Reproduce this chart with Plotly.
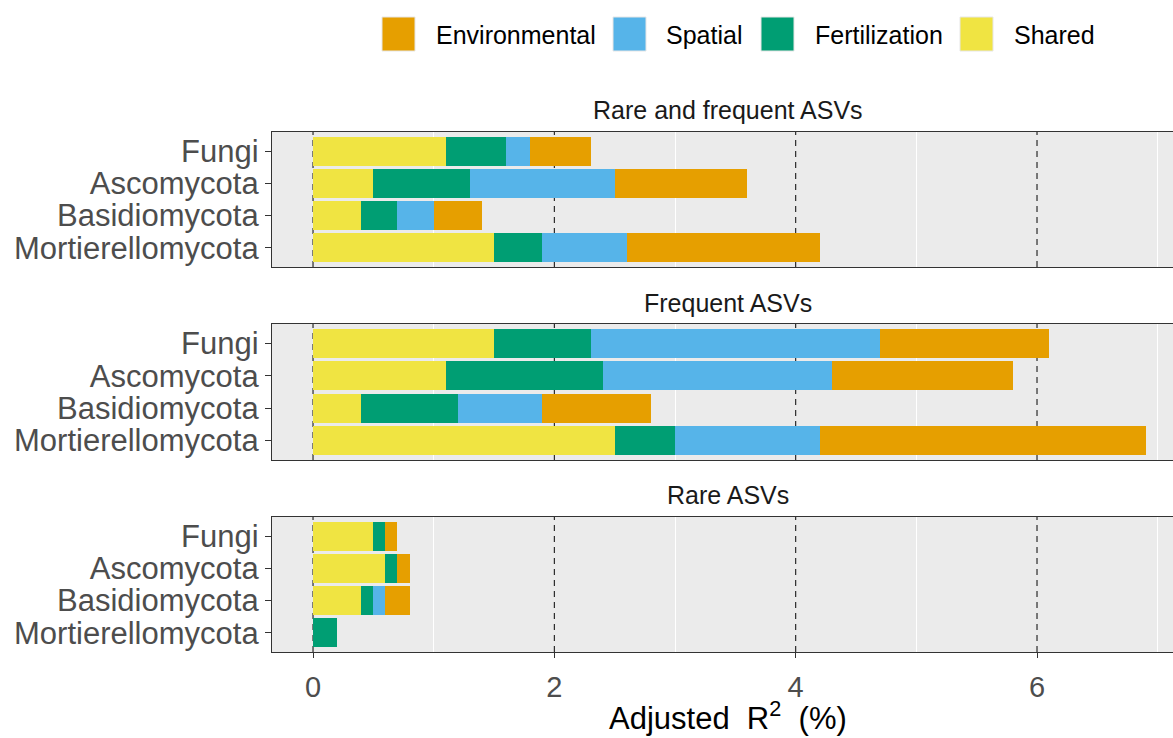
import plotly.graph_objects as go

categories = ["Fungi", "Ascomycota", "Basidiomycota", "Mortierellomycota"]
panels = ["Rare and frequent ASVs", "Frequent ASVs", "Rare ASVs"]
components = ["Shared", "Fertilization", "Spatial", "Environmental"]
legend_order = ["Environmental", "Spatial", "Fertilization", "Shared"]
colors = {"Environmental": "#E69F00", "Spatial": "#56B4E9",
          "Fertilization": "#009E73", "Shared": "#F0E442"}

# segment widths (adjusted R2, %) per panel, in category order
rf_shared = [1.1, 0.5, 0.4, 1.5]
rf_fert = [0.5, 0.8, 0.3, 0.4]
rf_spatial = [0.2, 1.2, 0.3, 0.7]
rf_env = [0.5, 1.1, 0.4, 1.6]

fr_shared = [1.5, 1.1, 0.4, 2.5]
fr_fert = [0.8, 1.3, 0.8, 0.5]
fr_spatial = [2.4, 1.9, 0.7, 1.2]
fr_env = [1.4, 1.5, 0.9, 2.7]

ra_shared = [0.5, 0.6, 0.4, 0.0]
ra_fert = [0.1, 0.1, 0.1, 0.2]
ra_spatial = [0.0, 0.0, 0.1, 0.0]
ra_env = [0.1, 0.1, 0.2, 0.0]

data = {
    panels[0]: {"Shared": rf_shared, "Fertilization": rf_fert, "Spatial": rf_spatial, "Environmental": rf_env},
    panels[1]: {"Shared": fr_shared, "Fertilization": fr_fert, "Spatial": fr_spatial, "Environmental": fr_env},
    panels[2]: {"Shared": ra_shared, "Fertilization": ra_fert, "Spatial": ra_spatial, "Environmental": ra_env},
}

x_ticks = [0, 2, 4, 6]
x_minor = [1, 3, 5, 7]
ref_lines = [0, 2, 4, 6]

W, H = 1173, 738
FONT = "Liberation Sans, Arial, Helvetica, sans-serif"

# panel pixel boxes (top, bottom)
panel_px = [(132, 267), (324, 460), (517, 652)]
strip_y = [110, 303, 495]

fig = go.Figure()
layout = dict(
    width=W, height=H,
    margin=dict(l=0, r=0, t=0, b=0),
    paper_bgcolor="white", plot_bgcolor="#EBEBEB",
    barmode="stack", bargap=0.1,
    showlegend=False,
    font=dict(family=FONT),
)

x_left = 272 / W
for i, p in enumerate(panels):
    xa = "x" if i == 0 else f"x{i+1}"
    ya = "y" if i == 0 else f"y{i+1}"
    xk = "xaxis" if i == 0 else f"xaxis{i+1}"
    yk = "yaxis" if i == 0 else f"yaxis{i+1}"
    for comp in components:
        fig.add_trace(go.Bar(
            x=data[p][comp], y=categories, orientation="h",
            marker=dict(color=colors[comp], line=dict(width=0)),
            name=comp, xaxis=xa, yaxis=ya, showlegend=False,
        ))
    top, bot = panel_px[i]
    ydom = [1 - bot / H, 1 - top / H]
    is_bottom = (i == len(panels) - 1)
    layout[xk] = dict(
        domain=[x_left, 1], range=[-0.34, 7.127], anchor=ya,
        tickmode="array", tickvals=x_ticks, showticklabels=is_bottom,
        ticks="outside" if is_bottom else "", ticklen=5, tickcolor="#333333", tickwidth=1.2,
        tickfont=dict(size=29, color="#4D4D4D", family=FONT),
        ticklabelstandoff=4,
        showgrid=False,
        minor=dict(tickmode="array", tickvals=x_minor, showgrid=True, gridcolor="white",
                   gridwidth=1, ticks=""),
        showline=True, linecolor="#333333", linewidth=1.3, mirror=True,
        zeroline=False, automargin=False, fixedrange=True,
    )
    layout[yk] = dict(
        domain=ydom, anchor=xa, type="category",
        categoryorder="array", categoryarray=categories,
        tickmode="array", tickvals=categories, ticktext=categories,
        range=[3.6, -0.6],
        ticks="outside", ticklen=6, tickcolor="#333333", tickwidth=1.2,
        tickfont=dict(size=31, color="#4D4D4D", family=FONT),
        showgrid=False, showline=True, linecolor="#333333", linewidth=1.3, mirror=False,
        zeroline=False, automargin=False, fixedrange=True,
    )

shapes = []
annotations = []
for i, p in enumerate(panels):
    xa = "x" if i == 0 else f"x{i+1}"
    ya = "y" if i == 0 else f"y{i+1}"
    for v in ref_lines:
        shapes.append(dict(type="line", xref=xa, yref=f"{ya} domain", x0=v, x1=v, y0=0, y1=1,
                           line=dict(color="#1A1A1A", width=1.1, dash="6px,5px"), layer="below"))
    annotations.append(dict(text=p, xref="paper", yref="paper", x=728 / W, y=1 - strip_y[i] / H,
                            xanchor="center", yanchor="middle", showarrow=False,
                            font=dict(size=25, color="#1A1A1A", family=FONT)))

# legend (manual)
legend_keys = {"Environmental": (382, 434), "Spatial": (613, 664),
               "Fertilization": (761, 813), "Shared": (960, 1012)}
for comp in legend_order:
    kx, tx = legend_keys[comp]
    shapes.append(dict(type="rect", xref="paper", yref="paper",
                       x0=kx / W, x1=(kx + 33) / W, y0=1 - 51 / H, y1=1 - 17 / H,
                       fillcolor=colors[comp], line=dict(color="#E6E6E6", width=1)))
    annotations.append(dict(text=comp, xref="paper", yref="paper", x=tx / W, y=1 - 35 / H,
                            xanchor="left", yanchor="middle", showarrow=False,
                            font=dict(size=25, color="black", family=FONT)))

annotations.append(dict(text="Adjusted  R<sup>2</sup>  (%)", xref="paper", yref="paper",
                        x=728 / W, y=1 - 716 / H, xanchor="center", yanchor="middle",
                        showarrow=False, font=dict(size=31, color="black", family=FONT)))

layout["shapes"] = shapes
layout["annotations"] = annotations
fig.update_layout(**layout)
fig.write_html("out.html")
